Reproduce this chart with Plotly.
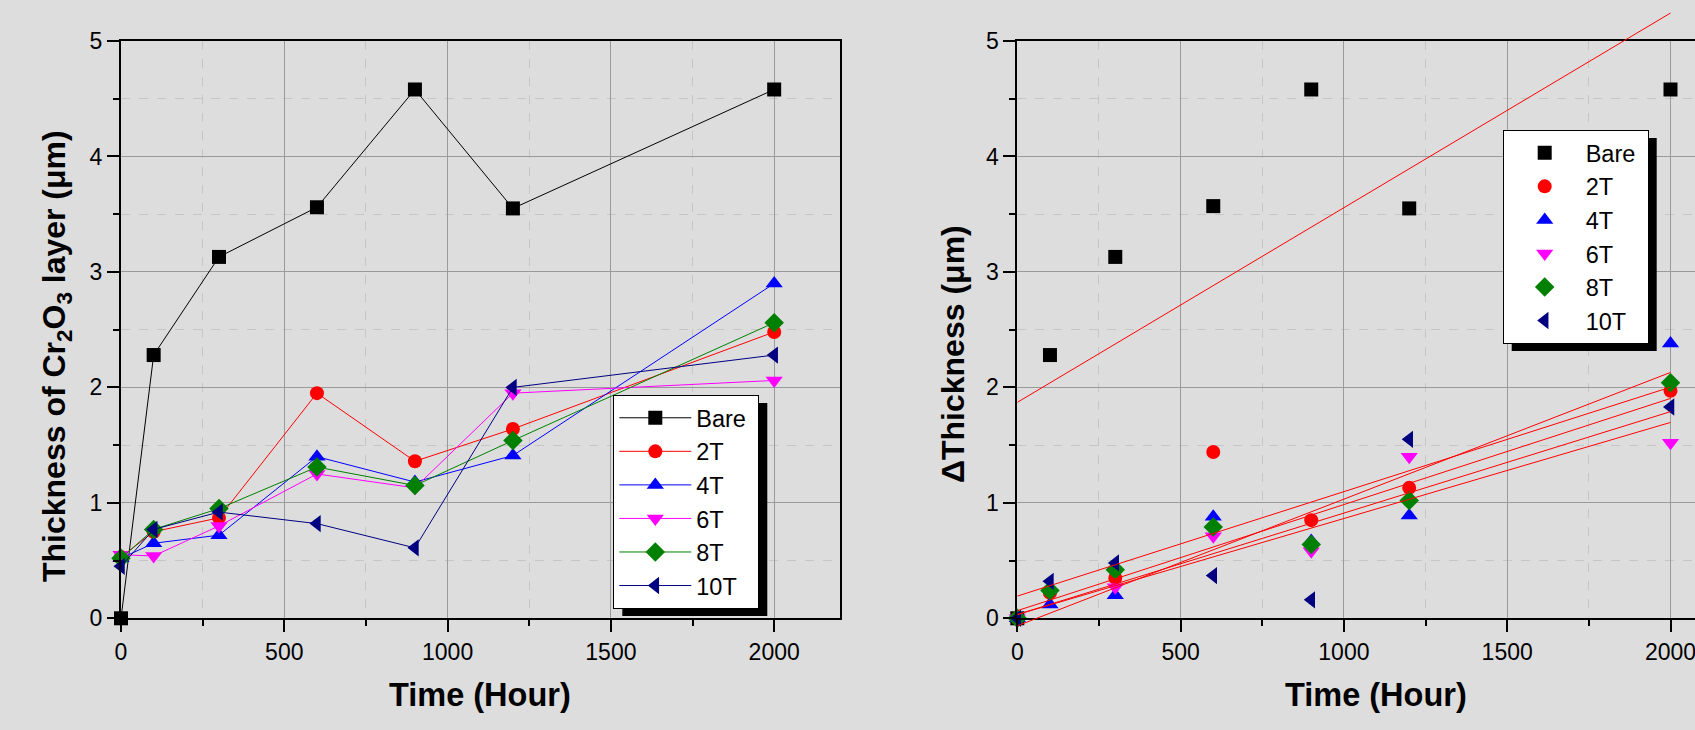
import numpy as np
import plotly.graph_objects as go

# ---------------- data ----------------
time_h = [0, 100, 300, 600, 900, 1200, 2000]
series_names = ["Bare", "2T", "4T", "6T", "8T", "10T"]

# Left panel: thickness of Cr2O3 layer (um)
thk_bare = [0.00, 2.28, 3.13, 3.56, 4.58, 3.55, 4.58]
thk_2t = [0.53, 0.75, 0.87, 1.95, 1.36, 1.64, 2.48]
thk_4t = [0.52, 0.65, 0.72, 1.40, 1.18, 1.41, 2.90]
thk_6t = [0.55, 0.54, 0.80, 1.25, 1.13, 1.95, 2.06]
thk_8t = [0.52, 0.77, 0.95, 1.31, 1.15, 1.54, 2.56]
thk_10t = [0.45, 0.77, 0.92, 0.82, 0.61, 2.00, 2.28]

# Right panel: delta thickness (um)
dth_bare = [0.00, 2.28, 3.13, 3.57, 4.58, 3.55, 4.58]
dth_2t = [0.00, 0.22, 0.35, 1.44, 0.85, 1.13, 1.97]
dth_4t = [0.00, 0.12, 0.20, 0.88, 0.67, 0.89, 2.38]
dth_6t = [0.00, -0.01, 0.27, 0.71, 0.58, 1.40, 1.52]
dth_8t = [0.00, 0.24, 0.42, 0.79, 0.64, 1.02, 2.04]
dth_10t = [0.00, 0.32, 0.48, 0.37, 0.16, 1.55, 1.83]

fit_x = [0, 2000]

# ---------------- style ----------------
colors = ["#000000", "#ff0000", "#0000ff", "#ff00ff", "#008000", "#000080"]
symbols = ["square", "circle", "triangle-up", "triangle-down", "diamond", "triangle-left"]
msizes = [14, 14, 15, 15, 15, 15]
BG = "#dddddd"
FONT = "Arial, Liberation Sans, sans-serif"
W, H = 1695, 730
NBSP = "\u00a0"

left_data = [thk_bare, thk_2t, thk_4t, thk_6t, thk_8t, thk_10t]
right_data = [dth_bare, dth_2t, dth_4t, dth_6t, dth_8t, dth_10t]


def px_x(p):
    return p / W


def px_y(p):
    return 1 - p / H


Y_TOP, Y_BOT = 41.0, 618.3
PPU = (Y_BOT - Y_TOP) / 5.0
FIT_BOT = 650.0

fig = go.Figure()

for name, ys, c, s, ms in zip(series_names, left_data, colors, symbols, msizes):
    fig.add_trace(go.Scatter(
        x=time_h, y=ys, name=name + NBSP, mode="lines+markers",
        line=dict(color=c, width=1),
        marker=dict(symbol=s, size=ms, color=c, line=dict(width=0)),
        xaxis="x", yaxis="y", legend="legend", cliponaxis=False,
    ))

for name, ys, c, s, ms in zip(series_names, right_data, colors, symbols, msizes):
    fig.add_trace(go.Scatter(
        x=time_h, y=ys, name=name + NBSP, mode="markers",
        marker=dict(symbol=s, size=ms, color=c, line=dict(width=0)),
        xaxis="x2", yaxis="y2", legend="legend2", cliponaxis=False,
    ))

# linear fits, drawn on hidden twin axes with the same scale but a taller area
for ys in right_data:
    slope, intercept = np.polyfit(time_h, ys, 1)
    fig.add_trace(go.Scatter(
        x=fit_x, y=[intercept + slope * xv for xv in fit_x], mode="lines",
        line=dict(color="#ff0000", width=1), showlegend=False,
        xaxis="x3", yaxis="y3", hoverinfo="skip",
    ))

common_axis = dict(
    showline=True, linewidth=2, linecolor="black", mirror=True, automargin=False,
    ticks="outside", ticklen=12, tickwidth=2, tickcolor="black",
    showgrid=True, gridcolor="#9a9a9a", gridwidth=1, zeroline=False,
    tickfont=dict(family=FONT, size=23, color="black"),
)


def minor(d):
    return dict(dtick=d, ticks="outside", ticklen=6, tickwidth=2, tickcolor="black",
                showgrid=True, gridcolor="#c6c6c6", griddash="dash")


xdom1 = [px_x(121), px_x(839.5)]
xdom2 = [px_x(1017.3), 1.0]
ydom = [px_y(Y_BOT), px_y(Y_TOP)]
X2MAX = 2075

LEG_FONT = dict(family=FONT, size=23.5, color="black")
L1_LEFT, L1_TOP = 613.3, 395.0
L2_LEFT, L2_TOP = 1502.7, 130.0

fig.update_layout(
    width=W, height=H, autosize=False,
    margin=dict(l=0, r=0, t=0, b=0, pad=0, autoexpand=False),
    paper_bgcolor=BG, plot_bgcolor="rgba(0,0,0,0)",
    font=dict(family=FONT, color="black"),
    xaxis=dict(domain=xdom1, range=[0, 2200], dtick=500, tick0=0, minor=minor(250),
               anchor="y", **common_axis),
    yaxis=dict(domain=ydom, range=[0, 5], dtick=1, tick0=0, minor=minor(0.5),
               anchor="x", **common_axis),
    xaxis2=dict(domain=xdom2, range=[0, X2MAX], dtick=500, tick0=0, minor=minor(250),
                anchor="y2", ticklabeloverflow="allow", **common_axis),
    yaxis2=dict(domain=ydom, range=[0, 5], dtick=1, tick0=0, minor=minor(0.5),
                anchor="x2", **{**common_axis, "mirror": False}),
    xaxis3=dict(domain=xdom2, range=[0, X2MAX], visible=False, showgrid=False,
                zeroline=False, anchor="y3", automargin=False),
    yaxis3=dict(domain=[px_y(FIT_BOT), 1.0],
                range=[-(FIT_BOT - Y_BOT) / PPU, Y_BOT / PPU],
                visible=False, showgrid=False, zeroline=False, anchor="x3", automargin=False),
    legend=dict(x=px_x(L1_LEFT), y=px_y(L1_TOP), xanchor="left", yanchor="top",
                bgcolor="white", bordercolor="black", borderwidth=1,
                font=LEG_FONT, itemwidth=72, tracegroupgap=0),
    legend2=dict(x=px_x(L2_LEFT), y=px_y(L2_TOP), xanchor="left", yanchor="top",
                 bgcolor="white", bordercolor="black", borderwidth=1,
                 font=LEG_FONT, itemwidth=72, tracegroupgap=0),
    showlegend=True,
)

# legend drop shadows (legend box is ~145 x 213 px)
LW, LH, SH_DX, SH_DY = 145.0, 213.0, 9.0, 8.0
for lx, ly in [(L1_LEFT, L1_TOP), (L2_LEFT, L2_TOP)]:
    fig.add_shape(type="rect", xref="paper", yref="paper",
                  x0=px_x(lx + SH_DX), x1=px_x(lx + LW + SH_DX),
                  y0=px_y(ly + LH + SH_DY), y1=px_y(ly + SH_DY),
                  fillcolor="black", line=dict(width=0), layer="above")

XT_FONT = dict(family=FONT, size=32.5, color="black")
YT_FONT = dict(family=FONT, size=32, color="black")
fig.add_annotation(text="<b>Time (Hour)</b>", x=px_x(480), y=px_y(695), xref="paper", yref="paper",
                   showarrow=False, xanchor="center", yanchor="middle", font=XT_FONT)
fig.add_annotation(text="<b>Time (Hour)</b>", x=px_x(1376), y=px_y(695), xref="paper", yref="paper",
                   showarrow=False, xanchor="center", yanchor="middle", font=XT_FONT)
fig.add_annotation(text="<b>Thickness of Cr<sub>2</sub>O<sub>3</sub> layer (μm)</b>",
                   x=px_x(56), y=px_y(356), xref="paper", yref="paper", textangle=-90,
                   showarrow=False, xanchor="center", yanchor="middle", font=YT_FONT)
fig.add_annotation(text="<b>ΔThickness (μm)</b>",
                   x=px_x(953), y=px_y(354), xref="paper", yref="paper", textangle=-90,
                   showarrow=False, xanchor="center", yanchor="middle", font=YT_FONT)

fig.write_html("out.html", config={"displayModeBar": False},
               post_script="document.body.style.margin='0';document.body.style.overflow='hidden';")
